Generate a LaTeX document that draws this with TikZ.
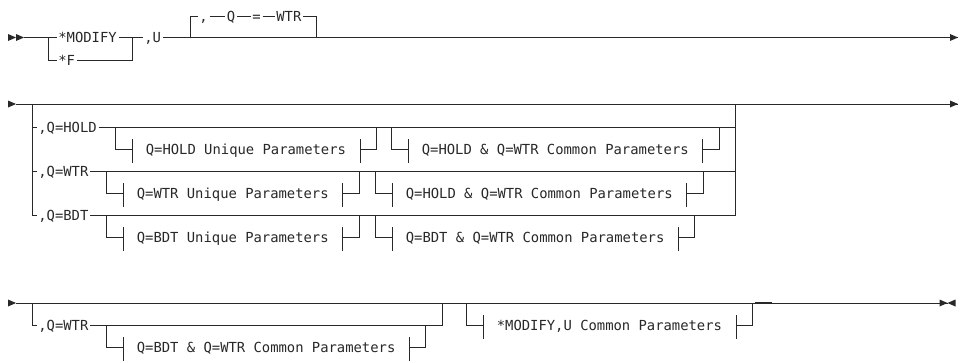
\documentclass[tikz,border=0pt]{standalone}
\usepackage{fontspec}
\newfontfamily\railfont{DejaVu Sans Mono}
\usepackage{tikz}
\usetikzlibrary{positioning,calc}
\definecolor{railgray}{RGB}{40,40,40}

\tikzset{
  kw/.style={font=\railfont\fontsize{13.85pt}{16pt}\selectfont, inner xsep=1.5pt, inner ysep=0pt,
    text height=10.1pt, text depth=0pt, anchor=west},
  frag/.style={kw, inner xsep=13.5pt},
  thickseg/.style={line width=1.8pt}
}
\newcommand{\tipright}[1]{\fill (#1) -- ++(-8,-3.5) -- ++(0,7) -- cycle;}
\newcommand{\tipleft}[1]{\fill (#1) -- ++(8,-3.5) -- ++(0,7) -- cycle;}

\begin{document}
\begin{tikzpicture}[x=1pt, y=-1pt, color=railgray, line width=0.75pt]
    \useasboundingbox (0,0) rectangle (963,362);
    % First line
    \coordinate (s1a) at (16,37.5);
    \coordinate (s1) at (24,37.5);
    \coordinate (j1a) at (48,37.5);
    \coordinate (j1b) at (132,37.5);
    \coordinate (l1a) at (190,37.5);
    \coordinate (l1b) at (316,37.5);
    \coordinate (e1) at (958,37.5);
    \node[kw] (modify) at (56.5,37.5) {*MODIFY};
    \node[kw] (fshort) at (56.5,60) {*F};
    \node[kw] (uopt) at (142.5,37.5) {,U};
    \node[kw] (comma) at (197.5,16.5) {,};
    \node[kw] (qkey) at (225,16.5) {Q};
    \node[kw] (eqs) at (250.5,16.5) {=};
    \node[kw] (wtr) at (274.5,16.5) {WTR};
    \tipright{s1a}
    \tipright{s1}
    \draw (s1) -- (j1a) -- (modify.west);
    \draw (j1a) |- (fshort.west);
    \draw (modify.east) -- (j1b) -- (uopt.west);
    \draw (fshort.east) -| (j1b);
    \draw (uopt.east) -- (e1);
    \tipright{e1}
    \draw (l1a) |- (comma.west);
    \draw (comma.east) -- (qkey.west);
    \draw (qkey.east) -- (eqs.west);
    \draw (eqs.east) -- (wtr.west);
    \draw (wtr.east) -| (l1b);
    % Second line
    \coordinate (s2) at (16,104);
    \coordinate (j2a) at (32,104);
    \coordinate (j2b) at (735,104);
    \coordinate (e2) at (958,104);
    \tipright{s2}
    \draw (s2) -- (e2);
    \tipright{e2}
    \node[kw] (qhold) at (36.5,127) {,Q=HOLD};
    \node[kw] (qwtr) at (36.5,171) {,Q=WTR};
    \node[kw] (qbdt) at (36.5,215) {,Q=BDT};
    \draw (j2a) |- (qhold.west);
    \draw (j2a) |- (qwtr.west);
    \draw (j2a) |- (qbdt.west);
    \draw (qhold.east) -| (j2b);
    \draw (qwtr.east) -- (qwtr.east -| j2b);
    \draw (qbdt.east) -| (j2b);
    \node[frag] (hu) at (132,149) {Q=HOLD Unique Parameters};
    \node[frag] (hc) at (408,149) {Q=HOLD \& Q=WTR Common Parameters};
    \node[frag] (wu) at (123,193) {Q=WTR Unique Parameters};
    \node[frag] (wc) at (392,193) {Q=HOLD \& Q=WTR Common Parameters};
    \node[frag] (bu) at (123,237) {Q=BDT Unique Parameters};
    \node[frag] (bc) at (392,237) {Q=BDT \& Q=WTR Common Parameters};
    % Third line
    \coordinate (s3) at (16,303);
    \coordinate (j3a) at (32,303);
    \coordinate (j3b) at (442,303);
    \coordinate (j3c) at (755,303);
    \coordinate (j3d) at (772,303);
    \coordinate (e3) at (947.5,303);
    \tipright{s3}
    \draw (s3) -- (e3);
    \tipright{e3}
    \tipleft{e3}
    \draw[thickseg] (j3c) -- (j3d);
    \node[kw] (qwtr3) at (36.5,325) {,Q=WTR};
    \draw (j3a) |- (qwtr3.west);
    \draw (qwtr3.east) -| (j3b);
    \node[frag] (xc) at (123,347) {Q=BDT \& Q=WTR Common Parameters};
    \node[frag] (mc) at (483,325) {*MODIFY,U Common Parameters};
    % Fragment references
    \foreach \f in {hu,hc,wu,wc,bu,bc,xc,mc} {
        \draw (\f.west) -| ++(-16.5,-22);
        \draw (\f.east) -| ++(16.5,-22);
        \draw ([yshift=10pt]\f.west) -- ([yshift=-14pt]\f.west);
        \draw ([yshift=10pt]\f.east) -- ([yshift=-14pt]\f.east);
    }
\end{tikzpicture}
\end{document}
